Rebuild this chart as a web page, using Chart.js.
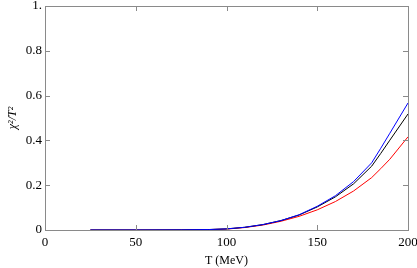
<!DOCTYPE html>
<html lang="en">
<head>
<meta charset="UTF-8">
<title>chi2 / T2</title>
<script src="https://cdn.jsdelivr.net/npm/chart.js"></script>
<style>
  html, body { margin: 0; padding: 0; background: #fff; }
  .box { width: 417px; height: 268px; }
</style>
</head>
<body>
<div class="box"><canvas id="grafico" width="417" height="268"></canvas></div>
<script>
// temperatura (MeV)
const temperatura = [25, 50, 75, 90, 100, 110, 120, 130, 140, 150, 160, 170, 180, 185, 190, 200];
// tres curvas
const curvaAzul  = [0, 0, 0.0005, 0.002, 0.005, 0.012, 0.024, 0.042, 0.068, 0.106, 0.153, 0.216, 0.300, 0.365, 0.432, 0.567];
const curvaPreta = [0, 0, 0.0005, 0.002, 0.005, 0.012, 0.024, 0.042, 0.067, 0.103, 0.148, 0.206, 0.285, 0.342, 0.401, 0.518];
const curvaVerm  = [0, 0, 0.0004, 0.0018, 0.004, 0.011, 0.022, 0.039, 0.061, 0.090, 0.127, 0.174, 0.234, 0.274, 0.316, 0.416];
const ticksX = [0, 50, 100, 150, 200];
const ticksY = [0, 0.2, 0.4, 0.6, 0.8, 1];

function pontos(ys) {
    return temperatura.map((t, i) => ({ x: t, y: ys[i] }));
}

// moldura e tracinhos para dentro
const moldura = {
    id: "moldura",
    afterDraw(chart) {
        const ctx = chart.ctx, a = chart.chartArea;
        const sx = chart.scales.x, sy = chart.scales.y;
        ctx.save();
        ctx.strokeStyle = "#8a8a8a";
        ctx.lineWidth = 1;
        ctx.strokeRect(a.left + 0.5, a.top + 0.5, a.right - a.left, a.bottom - a.top);
        ticksX.forEach(v => {
            const px = Math.round(sx.getPixelForValue(v)) + 0.5;
            ctx.beginPath();
            ctx.moveTo(px, a.bottom); ctx.lineTo(px, a.bottom - 5);
            ctx.moveTo(px, a.top); ctx.lineTo(px, a.top + 5);
            ctx.stroke();
        });
        ticksY.forEach(v => {
            const py = Math.round(sy.getPixelForValue(v)) + 0.5;
            ctx.beginPath();
            ctx.moveTo(a.left, py); ctx.lineTo(a.left + 5, py);
            ctx.moveTo(a.right, py); ctx.lineTo(a.right - 5, py);
            ctx.stroke();
        });
        ctx.restore();
    }
};

const fonte = { family: "'Liberation Serif', 'DejaVu Serif', serif", size: 13 };
const fonteTitulo = { family: "'Liberation Serif', 'DejaVu Serif', serif", size: 12 };

new Chart(document.getElementById("grafico"), {
    type: "line",
    data: {
        datasets: [
            { data: pontos(curvaAzul), borderColor: "#0000ff", borderWidth: 1, pointRadius: 0 },
            { data: pontos(curvaPreta), borderColor: "#000000", borderWidth: 1, pointRadius: 0 },
            { data: pontos(curvaVerm), borderColor: "#ff0000", borderWidth: 1, pointRadius: 0 }
        ]
    },
    options: {
        responsive: false,
        animation: false,
        layout: { padding: { top: 6, right: 9, left: 2, bottom: 0 } },
        plugins: { legend: { display: false }, tooltip: { enabled: false } },
        scales: {
            x: {
                type: "linear",
                min: 0, max: 200,
                afterBuildTicks: s => { s.ticks = ticksX.map(v => ({ value: v })); },
                afterFit: s => { s.height = 38; s.paddingRight = 0; s.paddingLeft = 0; },
                grid: { display: false, drawTicks: false },
                border: { display: false },
                ticks: { color: "#000", font: fonte, padding: 5, maxRotation: 0 },
                title: { display: true, text: "T (MeV)", color: "#000", font: fonteTitulo, padding: { top: 1, bottom: 0 } }
            },
            y: {
                min: 0, max: 1,
                afterBuildTicks: s => { s.ticks = ticksY.map(v => ({ value: v })); },
                afterFit: s => { s.width = 43; s.paddingTop = 0; s.paddingBottom = 0; },
                grid: { display: false, drawTicks: false },
                border: { display: false },
                ticks: {
                    color: "#000", font: fonte, padding: 3,
                    callback: v => v === 1 ? "1." : (v === 0 ? "0" : String(v))
                },
                title: { display: true, text: "χ²/T²", color: "#000", font: { family: fonte.family, size: 12, style: "italic" }, padding: { top: 4, bottom: 2 } }
            }
        }
    },
    plugins: [moldura]
});
</script>
</body>
</html>
